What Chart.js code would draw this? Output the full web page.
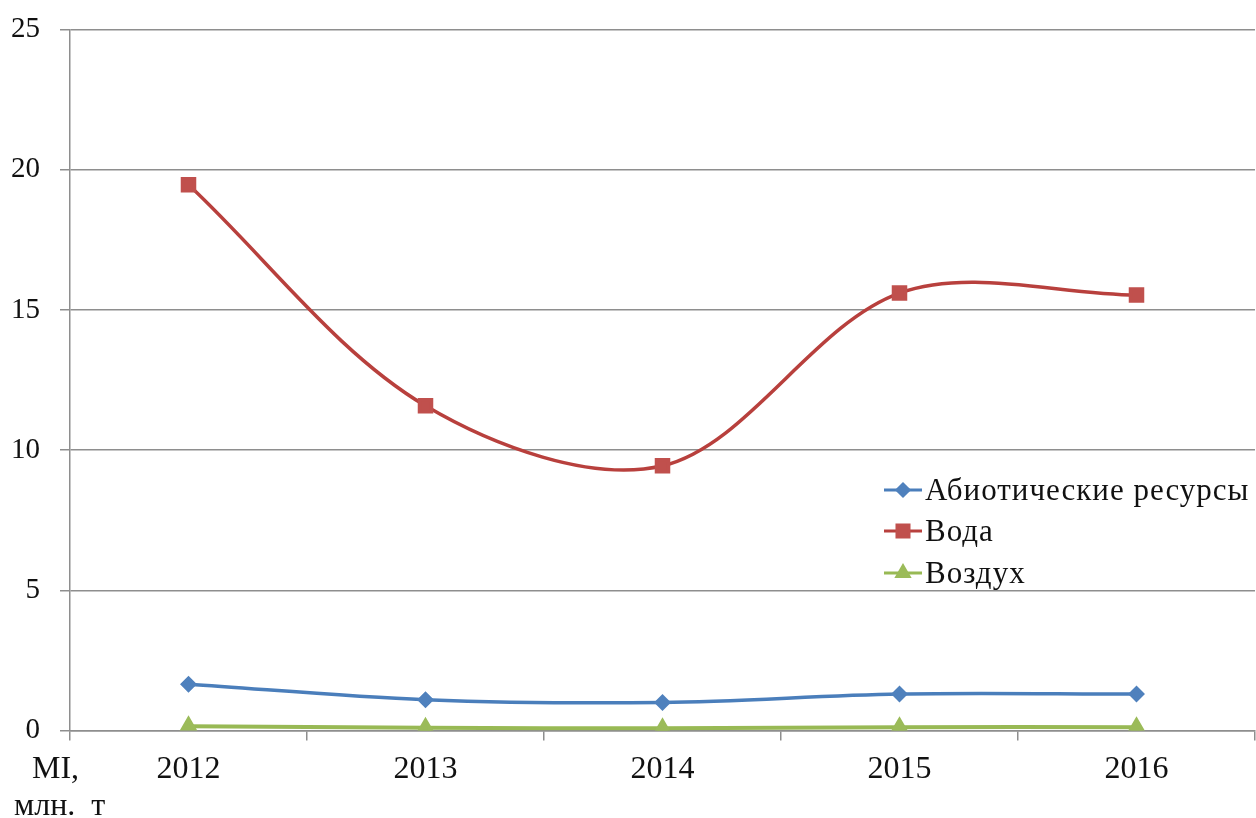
<!DOCTYPE html>
<html lang="ru">
<head>
<meta charset="utf-8">
<title>MI, млн. т</title>
<script src="https://cdn.jsdelivr.net/npm/chart.js@4/dist/chart.umd.min.js"></script>
<style>
  html, body { margin: 0; padding: 0; background: #ffffff; }
  #wrap { width: 1256px; height: 818px; position: relative; }
</style>
</head>
<body>
<div id="wrap"><canvas id="chart" width="1256" height="818"></canvas></div>
<script>
// Years on the category axis
const years = ['2012', '2013', '2014', '2015', '2016'];

// Series values, млн. т
const abioticValues = [1.65, 1.1, 1.0, 1.3, 1.3];
const waterValues = [19.46, 11.58, 9.44, 15.6, 15.53];
const airValues = [0.15, 0.1, 0.08, 0.12, 0.12];

// Series names
const seriesNames = ['Абиотические ресурсы', 'Вода', 'Воздух'];

// Value axis ticks
const yTicks = [0, 5, 10, 15, 20, 25];

// Axis unit caption
const unitLines = ['MI,', 'млн.  т'];

const FONT = '"Liberation Serif", "Times New Roman", serif';
const GRID = '#8e8e8e';

// Legend drawn inside the plot, to the right
const legendPlugin = {
  id: 'insideLegend',
  afterDatasetsDraw(chart) {
    const ctx = chart.ctx;
    const rows = [490, 531, 573];
    const x0 = 884, x1 = 922;
    ctx.save();
    chart.data.datasets.forEach((ds, i) => {
      const y = rows[i];
      ctx.strokeStyle = ds.borderColor;
      ctx.lineWidth = 3;
      ctx.beginPath();
      ctx.moveTo(x0, y);
      ctx.lineTo(x1, y);
      ctx.stroke();
      ctx.fillStyle = ds.pointBackgroundColor;
      ctx.strokeStyle = ds.pointBackgroundColor;
      Chart.helpers.drawPoint(ctx, {
        pointStyle: ds.pointStyle,
        radius: ds.pointRadius,
        borderWidth: 1
      }, (x0 + x1) / 2, y);
      ctx.fillStyle = '#111111';
      ctx.font = '31px ' + FONT;
      ctx.letterSpacing = '1px';
      ctx.textBaseline = 'middle';
      ctx.textAlign = 'left';
      ctx.fillText(ds.label, x1 + 3, y + 2);
      ctx.letterSpacing = '0px';
    });
    ctx.restore();
  }
};

// Unit caption under the value axis
const unitPlugin = {
  id: 'unitCaption',
  afterDraw(chart) {
    const ctx = chart.ctx;
    ctx.save();
    ctx.fillStyle = '#111111';
    ctx.font = '32px ' + FONT;
    ctx.textBaseline = 'alphabetic';
    ctx.textAlign = 'left';
    ctx.fillText(unitLines[0], 32, 778);
    ctx.fillText(unitLines[1], 14, 815);
    ctx.restore();
  }
};

// Keep the plot box fixed: no extra room for overhanging tick labels
function clearScalePadding(scale) {
  scale.paddingTop = 0;
  scale.paddingBottom = 0;
  scale.paddingLeft = 0;
  scale.paddingRight = 0;
}

new Chart(document.getElementById('chart'), {
  type: 'line',
  data: {
    labels: years,
    datasets: [
      {
        label: seriesNames[0],
        data: abioticValues,
        borderColor: '#4a7ebb',
        backgroundColor: '#4a7ebb',
        pointBackgroundColor: '#4f81bd',
        pointBorderColor: '#4f81bd',
        pointStyle: 'rectRot',
        pointRadius: 6,
        borderWidth: 3.5,
        tension: 0.33
      },
      {
        label: seriesNames[1],
        data: waterValues,
        borderColor: '#b8403d',
        backgroundColor: '#b8403d',
        pointBackgroundColor: '#c0504d',
        pointBorderColor: '#c0504d',
        pointStyle: 'rect',
        pointRadius: 8.5,
        borderWidth: 3.5,
        tension: 0.33
      },
      {
        label: seriesNames[2],
        data: airValues,
        borderColor: '#98b954',
        backgroundColor: '#98b954',
        pointBackgroundColor: '#9bbb59',
        pointBorderColor: '#9bbb59',
        pointStyle: 'triangle',
        pointRadius: 7,
        borderWidth: 4,
        tension: 0.33
      }
    ]
  },
  options: {
    responsive: false,
    animation: false,
    devicePixelRatio: 1,
    layout: {
      autoPadding: false,
      padding: { top: 29.5, right: 1, bottom: 0, left: 0 }
    },
    plugins: {
      legend: { display: false },
      tooltip: { enabled: false }
    },
    scales: {
      x: {
        type: 'category',
        offset: true,
        afterFit(scale) { scale.height = 87.5; clearScalePadding(scale); },
        grid: {
          offset: true,
          drawOnChartArea: false,
          drawTicks: true,
          tickLength: 10,
          color: GRID,
          lineWidth: 1.5
        },
        border: { display: true, color: GRID, width: 1.5 },
        ticks: {
          color: '#111111',
          font: { family: FONT, size: 32 },
          padding: 10,
          maxRotation: 0
        }
      },
      y: {
        min: 0,
        max: 25,
        afterFit(scale) { scale.width = 70; clearScalePadding(scale); },
        afterBuildTicks(scale) { scale.ticks = yTicks.map(v => ({ value: v })); },
        grid: {
          color: GRID,
          lineWidth: 1.5,
          drawTicks: true,
          tickLength: 10
        },
        border: { display: true, color: GRID, width: 1.5 },
        ticks: {
          color: '#111111',
          font: { family: FONT, size: 29 },
          padding: 20
        }
      }
    }
  },
  plugins: [legendPlugin, unitPlugin]
});
</script>
</body>
</html>
